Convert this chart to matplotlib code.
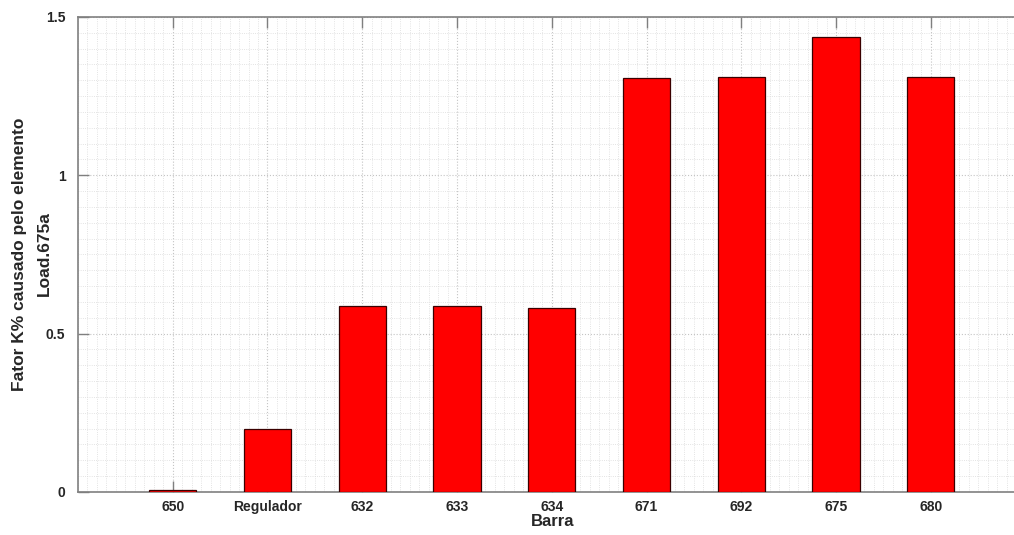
import matplotlib.pyplot as plt
from matplotlib.ticker import MultipleLocator

# Fator K% por barra, causado pela carga Load.675a
barras = ['650', 'Regulador', '632', '633', '634', '671', '692', '675', '680']
fator_k = [0.006, 0.199, 0.588, 0.588, 0.581, 1.308, 1.311, 1.437, 1.309]

plt.rcParams['font.family'] = ['Liberation Sans', 'DejaVu Sans']
cor_texto = '#262626'

W, H = 1014, 535
fig = plt.figure(figsize=(W / 100, H / 100), dpi=100)
# eixo vai de 0 a 10, mas a figura corta a parte da direita
ax = fig.add_axes([0.0769, 0.0804, 0.9345, 0.888])

pos = list(range(1, len(barras) + 1))
ax.bar(pos, fator_k, width=0.5, color='#ff0000', edgecolor='#3a0000',
       linewidth=0.9, zorder=3)

ax.set_xlim(0, 10)
ax.set_ylim(0, 1.5)
ax.set_xticks(pos)
ax.set_xticklabels(barras)
ax.set_yticks([0, 0.5, 1, 1.5])
ax.set_yticklabels(['0', '0.5', '1', '1.5'])
ax.xaxis.set_minor_locator(MultipleLocator(0.1))
ax.yaxis.set_minor_locator(MultipleLocator(0.05))

ax.grid(which='major', color='#c4c4c4', linestyle=':', linewidth=0.8, zorder=0)
ax.grid(which='minor', color='#dadada', linestyle=':', linewidth=0.6, zorder=0)
ax.set_axisbelow(True)

ax.tick_params(which='major', direction='in', length=8, width=1,
               color='#7f7f7f', top=True, right=True,
               labelsize=10, labelcolor=cor_texto)
ax.tick_params(axis='x', which='major', pad=6)
ax.tick_params(axis='y', which='major', pad=9)
ax.tick_params(which='minor', length=0)
for lbl in ax.get_xticklabels() + ax.get_yticklabels():
    lbl.set_fontweight('bold')

for s in ax.spines.values():
    s.set_color('#808080')
    s.set_linewidth(1.2)

# rótulos dos eixos posicionados em pixels da figura
fig.text(553 / W, 1 - 522 / H, 'Barra', fontsize=12, fontweight='bold',
         color=cor_texto, ha='center', va='center')
fig.text(20 / W, 1 - 254 / H, 'Fator K% causado pelo elemento',
         fontsize=12.5, fontweight='bold', color=cor_texto, rotation=90,
         ha='center', va='center')
fig.text(44 / W, 1 - 254 / H, 'Load.675a',
         fontsize=12.5, fontweight='bold', color=cor_texto, rotation=90,
         ha='center', va='center')

fig.savefig('out.png', dpi=100)
